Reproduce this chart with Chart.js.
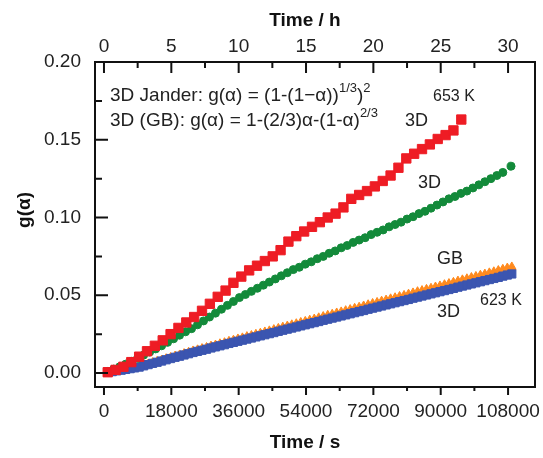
<!DOCTYPE html>
<html>
<head>
<meta charset="utf-8">
<script src="https://cdn.jsdelivr.net/npm/chart.js@4/dist/chart.umd.min.js"></script>
<style>
  body { margin: 0; background: #fff; }
  #wrap { width: 543px; height: 458px; }
</style>
</head>
<body>
<div id="wrap"><canvas id="kinetics" width="543" height="458"></canvas></div>
<script>
// tick labels
const secTicks = [0, 18000, 36000, 54000, 72000, 90000, 108000];
const hourTicks = [0, 5, 10, 15, 20, 25, 30];
const gTicks = [0, 0.05, 0.10, 0.15, 0.20];

// 653 K, 3D Jander (red squares)
const t653a = [1000, 3100, 5200, 7300, 9400, 11500, 13600, 15700, 17800, 19900, 22000, 24100, 26200, 28300, 30400,
    32500, 34600, 36700, 38800, 40900, 43000, 45100, 47200, 49300, 51400, 53500, 55600, 57700, 59800, 61900,
    64000, 66100, 68200, 70300, 72400, 74500, 76600, 78700, 80800, 82900, 85000, 87100, 89200, 91300, 93400, 95500];
const g653a = [0.0005, 0.002, 0.004, 0.007, 0.0105, 0.014, 0.0175, 0.021, 0.025, 0.029, 0.0325, 0.036, 0.040, 0.0445, 0.049,
    0.053, 0.058, 0.062, 0.066, 0.069, 0.072, 0.075, 0.079, 0.0845, 0.088, 0.091, 0.094, 0.097, 0.100, 0.1025,
    0.1065, 0.112, 0.1145, 0.117, 0.120, 0.1235, 0.127, 0.132, 0.138, 0.141, 0.144, 0.147, 0.1505, 0.153, 0.156, 0.163];

// 653 K, second fit (green circles)
const t653b = [1000, 2600, 4200, 5800, 7400, 9000, 10600, 12200, 13800, 15400, 17000, 18600, 20200, 21800, 23400,
    25000, 26600, 28200, 29800, 31400, 33000, 34600, 36200, 37800, 39400, 41000, 42600, 44200, 45800, 47400,
    49000, 50600, 52200, 53800, 55400, 57000, 58600, 60200, 61800, 63400, 65000, 66600, 68200, 69800, 71400,
    73000, 74600, 76200, 77800, 79400, 81000, 82600, 84200, 85800, 87400, 89000, 90600, 92200, 93800, 95400,
    97000, 98600, 100200, 101800, 103400, 105000, 106600, 108800];
const g653b = [0.001, 0.0025, 0.004, 0.0057, 0.0075, 0.0095, 0.0115, 0.0135, 0.0155, 0.0175, 0.0197, 0.022, 0.0243, 0.0265, 0.0285,
    0.031, 0.0335, 0.036, 0.0385, 0.041, 0.0435, 0.046, 0.0485, 0.0505, 0.0525, 0.0545, 0.0565, 0.0585, 0.0605, 0.0625,
    0.0645, 0.0665, 0.068, 0.070, 0.0715, 0.0735, 0.075, 0.077, 0.0785, 0.0805, 0.082, 0.084, 0.0855, 0.087, 0.089,
    0.0905, 0.092, 0.094, 0.0955, 0.097, 0.099, 0.1005, 0.1025, 0.104, 0.106, 0.108, 0.110, 0.112, 0.1135, 0.1155,
    0.117, 0.119, 0.121, 0.123, 0.125, 0.127, 0.129, 0.133];

// 623 K (blue squares = 3D, orange triangles = GB)
const t623 = [1000, 2200, 3400, 4600, 5800, 7000, 8200, 9400, 10600, 11800, 13000, 14200, 15400, 16600, 17800,
    19000, 20200, 21400, 22600, 23800, 25000, 26200, 27400, 28600, 29800, 31000, 32200, 33400, 34600, 35800,
    37000, 38200, 39400, 40600, 41800, 43000, 44200, 45400, 46600, 47800, 49000, 50200, 51400, 52600, 53800,
    55000, 56200, 57400, 58600, 59800, 61000, 62200, 63400, 64600, 65800, 67000, 68200, 69400, 70600, 71800,
    73000, 74200, 75400, 76600, 77800, 79000, 80200, 81400, 82600, 83800, 85000, 86200, 87400, 88600, 89800,
    91000, 92200, 93400, 94600, 95800, 97000, 98200, 99400, 100600, 101800, 103000, 104200, 105400, 106600, 107800, 109000];
const g623a = [0.0005, 0.0009, 0.0014, 0.0018, 0.0023, 0.0028, 0.0033, 0.0038, 0.0046, 0.0054, 0.0062, 0.0069, 0.0077, 0.0085, 0.0093,
    0.0101, 0.0108, 0.0116, 0.0124, 0.0132, 0.0139, 0.0146, 0.0153, 0.0161, 0.0168, 0.0175, 0.0182, 0.0190, 0.0197, 0.0204,
    0.0211, 0.0218, 0.0225, 0.0232, 0.0239, 0.0246, 0.0253, 0.0260, 0.0268, 0.0275, 0.0282, 0.0289, 0.0296, 0.0303, 0.0310,
    0.0317, 0.0324, 0.0331, 0.0339, 0.0346, 0.0353, 0.0360, 0.0367, 0.0374, 0.0381, 0.0388, 0.0395, 0.0402, 0.0410, 0.0417,
    0.0424, 0.0431, 0.0438, 0.0445, 0.0452, 0.0459, 0.0466, 0.0473, 0.0481, 0.0488, 0.0495, 0.0502, 0.0509, 0.0516, 0.0523,
    0.0530, 0.0537, 0.0544, 0.0552, 0.0559, 0.0566, 0.0573, 0.0580, 0.0587, 0.0594, 0.0601, 0.0608, 0.0615, 0.0623, 0.0630, 0.0637];
const g623b = [0.0005, 0.0010, 0.0015, 0.0020, 0.0025, 0.0030, 0.0036, 0.0042, 0.0050, 0.0058, 0.0067, 0.0075, 0.0083, 0.0092, 0.0100,
    0.0109, 0.0116, 0.0125, 0.0133, 0.0142, 0.0149, 0.0157, 0.0164, 0.0173, 0.0180, 0.0188, 0.0195, 0.0204, 0.0211, 0.0219,
    0.0226, 0.0234, 0.0241, 0.0249, 0.0256, 0.0264, 0.0271, 0.0279, 0.0287, 0.0295, 0.0302, 0.0310, 0.0317, 0.0325, 0.0332,
    0.0340, 0.0347, 0.0355, 0.0363, 0.0371, 0.0378, 0.0386, 0.0393, 0.0401, 0.0408, 0.0416, 0.0423, 0.0431, 0.0439, 0.0447,
    0.0454, 0.0462, 0.0469, 0.0477, 0.0484, 0.0492, 0.0499, 0.0507, 0.0515, 0.0523, 0.0530, 0.0538, 0.0545, 0.0553, 0.0560,
    0.0568, 0.0575, 0.0583, 0.0591, 0.0599, 0.0606, 0.0614, 0.0621, 0.0629, 0.0636, 0.0644, 0.0651, 0.0659, 0.0667, 0.0675, 0.0682];

const FONT = 'Liberation Sans, Arial, sans-serif';

function toPoints(xs, ys) {
    return xs.map((x, i) => ({ x: x, y: ys[i] }));
}

function fixTicks(values) {
    return function (scale) {
        scale.ticks = values.map(v => ({ value: v }));
    };
}

// draw text made of pieces, some of them raised as superscripts
function drawRich(ctx, parts, x, y) {
    parts.forEach(p => {
        const sup = p[1];
        ctx.font = sup ? '13px ' + FONT : '19px ' + FONT;
        ctx.fillText(p[0], x, sup ? y - 8 : y);
        x += ctx.measureText(p[0]).width;
    });
}

// frame, inward ticks, axis titles and the text inside the plot
const framePlugin = {
    id: 'framePlugin',
    afterDraw(chart) {
        const { ctx, chartArea: a, scales } = chart;
        ctx.save();
        ctx.strokeStyle = '#111';
        ctx.lineWidth = 2;
        ctx.strokeRect(a.left, a.top, a.right - a.left, a.bottom - a.top);

        ctx.beginPath();
        // left axis, ticks pointing in
        gTicks.forEach(v => {
            const y = scales.y.getPixelForValue(v);
            ctx.moveTo(a.left, y); ctx.lineTo(a.left + 13, y);
            const ym = scales.y.getPixelForValue(v + 0.025);
            if (ym > a.top + 2) { ctx.moveTo(a.left, ym); ctx.lineTo(a.left + 7, ym); }
        });
        // top axis, ticks pointing in
        hourTicks.forEach(v => {
            const x = scales.x2.getPixelForValue(v);
            ctx.moveTo(x, a.top); ctx.lineTo(x, a.top + 11);
            const xm = scales.x2.getPixelForValue(v + 2.5);
            if (xm < a.right - 2) { ctx.moveTo(xm, a.top); ctx.lineTo(xm, a.top + 6); }
        });
        // bottom axis, ticks pointing out
        secTicks.forEach(v => {
            const x = scales.x.getPixelForValue(v);
            ctx.moveTo(x, a.bottom); ctx.lineTo(x, a.bottom + 8);
            const xm = scales.x.getPixelForValue(v + 9000);
            if (xm < a.right - 2) { ctx.moveTo(xm, a.bottom); ctx.lineTo(xm, a.bottom + 4); }
        });
        ctx.stroke();

        // axis titles
        ctx.fillStyle = '#111';
        ctx.textAlign = 'center';
        ctx.textBaseline = 'middle';
        ctx.font = 'bold 19px ' + FONT;
        ctx.fillText('Time / h', 305, 21);
        ctx.fillText('Time / s', 305, 443);
        ctx.save();
        ctx.translate(25, 210);
        ctx.rotate(-Math.PI / 2);
        ctx.fillText('g(\u03b1)', 0, 0);
        ctx.restore();

        // formulas and labels
        ctx.fillStyle = '#222';
        ctx.textAlign = 'left';
        drawRich(ctx, [['3D Jander: g(\u03b1) = (1-(1\u2212\u03b1))'], ['1/3', true], [')'], ['2', true]], 110, 96);
        drawRich(ctx, [['3D (GB): g(\u03b1) = 1-(2/3)\u03b1-(1-\u03b1)'], ['2/3', true]], 110, 121);
        ctx.font = '16px ' + FONT;
        ctx.fillText('653 K', 433, 97);
        ctx.fillText('623 K', 480, 301);
        ctx.font = '18px ' + FONT;
        ctx.fillText('3D', 405, 121);
        ctx.fillText('3D', 418, 183);
        ctx.fillText('GB', 437, 259);
        ctx.fillText('3D', 437, 312);
        ctx.restore();
    }
};

const tickFont = { family: FONT, size: 19 };

new Chart(document.getElementById('kinetics'), {
    type: 'scatter',
    data: {
        datasets: [
            {
                label: '623 K 3D',
                data: toPoints(t623, g623a),
                pointStyle: 'rect',
                pointRadius: 5.8,
                backgroundColor: '#3b55b0',
                borderColor: '#3b55b0',
                borderWidth: 1,
                order: 2
            },
            {
                label: '623 K GB',
                data: toPoints(t623, g623b),
                pointStyle: 'triangle',
                pointRadius: 5,
                backgroundColor: '#ff8a1e',
                borderColor: '#ff8a1e',
                borderWidth: 1,
                order: 3
            },
            {
                label: '653 K 3D Jander',
                data: toPoints(t653a, g653a),
                pointStyle: 'rect',
                pointRadius: 6.6,
                backgroundColor: '#ee1c24',
                borderColor: '#ee1c24',
                borderWidth: 1,
                order: 0
            },
            {
                label: '653 K',
                data: toPoints(t653b, g653b),
                pointStyle: 'circle',
                pointRadius: 4,
                backgroundColor: '#138a3a',
                borderColor: '#138a3a',
                borderWidth: 1,
                order: 1
            }
        ]
    },
    options: {
        responsive: false,
        animation: false,
        devicePixelRatio: 1,
        layout: { padding: { left: 0, right: 8, top: 0, bottom: 0 } },
        plugins: { legend: { display: false }, tooltip: { enabled: false } },
        scales: {
            x: {
                type: 'linear',
                position: 'bottom',
                min: -2400,
                max: 115200,
                afterBuildTicks: fixTicks(secTicks),
                afterFit: s => { s.height = 71; s.paddingLeft = 0; s.paddingRight = 0; },
                grid: { display: false, drawTicks: false },
                border: { display: false },
                ticks: { font: tickFont, color: '#222', padding: 13, maxRotation: 0, autoSkip: false, callback: v => String(v) }
            },
            x2: {
                type: 'linear',
                position: 'top',
                min: -2400 / 3600,
                max: 115200 / 3600,
                afterBuildTicks: fixTicks(hourTicks),
                afterFit: s => { s.height = 62; s.paddingLeft = 0; s.paddingRight = 0; },
                grid: { display: false, drawTicks: false },
                border: { display: false },
                ticks: { font: tickFont, color: '#222', padding: 4, maxRotation: 0, autoSkip: false, callback: v => String(v) }
            },
            y: {
                type: 'linear',
                min: -0.009,
                max: 0.2,
                afterBuildTicks: fixTicks(gTicks),
                afterFit: s => { s.width = 95; s.paddingTop = 0; s.paddingBottom = 0; },
                grid: { display: false, drawTicks: false },
                border: { display: false },
                ticks: { font: tickFont, color: '#222', padding: 14, callback: v => v.toFixed(2) }
            }
        }
    },
    plugins: [framePlugin]
});
</script>
</body>
</html>
